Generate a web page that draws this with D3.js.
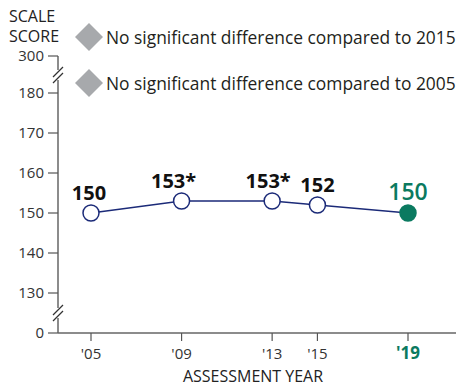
<!DOCTYPE html>
<html lang="en">
<head>
<meta charset="UTF-8">
<title>Scale score by assessment year</title>
<script src="https://d3js.org/d3.v7.min.js"></script>
<style>
  body { margin: 0; background: #fff; }
  svg { font-family: "Open Sans", "Noto Sans", sans-serif; }
</style>
</head>
<body>
<svg width="456" height="388"></svg>
<script>
    // data
    const years = [2005, 2009, 2013, 2015, 2019];
    const yearLabels = ["'05", "'09", "'13", "'15", "'19"];
    const scores = [150, 153, 153, 152, 150];
    const scoreLabels = ["150", "153*", "153*", "152", "150"];
    const yTicks = [130, 140, 150, 160, 170, 180];
    const legendItems = ["No significant difference compared to 2015", "No significant difference compared to 2005"];

    let svg = d3.select("svg");
    const axisX = 58, baseY = 333;
    const green = "#0b7a60", navy = "#1b2a78";

    // y scale for the visible band, 0 and 300 sit outside the breaks
    let y = d3.scaleLinear().domain([130, 180]).range([293, 93]);
    let x = d3.scaleLinear().domain([2005, 2019]).range([91, 408]);

    // y axis
    let yAxis = svg.append("g");
    yAxis.append("line")
        .attr("x1", axisX).attr("x2", axisX)
        .attr("y1", 56).attr("y2", baseY)
        .attr("stroke", "#8c8c8c").attr("stroke-width", 2);

    const yTickData = [{v: 0, py: baseY}, {v: 300, py: 56}]
        .concat(yTicks.map(v => ({v: v, py: y(v)})));
    yAxis.selectAll(".yt").data(yTickData).enter().append("line")
        .attr("x1", 48).attr("x2", axisX)
        .attr("y1", d => d.py).attr("y2", d => d.py)
        .attr("stroke", "#555").attr("stroke-width", 1.2);
    yAxis.selectAll(".yl").data(yTickData).enter().append("text")
        .attr("x", 44).attr("y", d => d.py + 5)
        .attr("text-anchor", "end")
        .attr("font-size", 15).attr("fill", "#333")
        .text(d => d.v);

    // axis break marks
    [75, 313].forEach(by => {
        svg.append("rect").attr("x", axisX - 4).attr("y", by - 5)
            .attr("width", 8).attr("height", 10).attr("fill", "#fff");
        [-3, 3].forEach(off => {
            svg.append("line")
                .attr("x1", axisX - 5).attr("y1", by + off + 5)
                .attr("x2", axisX + 5).attr("y2", by + off - 5)
                .attr("stroke", "#333").attr("stroke-width", 1.2);
        });
    });

    // x axis
    svg.append("line")
        .attr("x1", axisX).attr("x2", 456)
        .attr("y1", baseY).attr("y2", baseY)
        .attr("stroke", "#666").attr("stroke-width", 1.5);
    svg.selectAll(".xt").data(years).enter().append("line")
        .attr("x1", d => x(d)).attr("x2", d => x(d))
        .attr("y1", baseY).attr("y2", baseY + 8)
        .attr("stroke", "#555").attr("stroke-width", 1.2);
    svg.selectAll(".xl").data(years).enter().append("text")
        .attr("x", d => x(d)).attr("y", 359)
        .attr("text-anchor", "middle")
        .attr("font-size", (d, i) => i === years.length - 1 ? 17 : 15)
        .attr("font-weight", (d, i) => i === years.length - 1 ? "bold" : "normal")
        .attr("fill", (d, i) => i === years.length - 1 ? green : "#333")
        .text((d, i) => yearLabels[i]);
    svg.append("text")
        .attr("x", 253).attr("y", 382)
        .attr("text-anchor", "middle")
        .attr("font-size", 16).attr("fill", "#222")
        .attr("textLength", 140).attr("lengthAdjust", "spacingAndGlyphs")
        .text("ASSESSMENT YEAR");

    // y title
    svg.append("text").attr("x", 9).attr("y", 22)
        .attr("font-size", 16).attr("fill", "#222").text("SCALE");
    svg.append("text").attr("x", 9).attr("y", 42)
        .attr("font-size", 16).attr("fill", "#222").text("SCORE");

    // legend
    let legend = svg.selectAll(".leg").data(legendItems).enter().append("g")
        .attr("transform", (d, i) => `translate(89,${37 + i * 46})`);
    legend.append("path")
        .attr("d", "M0,-14L14,0L0,14L-14,0Z")
        .attr("fill", "#a7a9ac");
    legend.append("text")
        .attr("x", 17).attr("y", 7)
        .attr("font-size", 17.4).attr("fill", "#231f20")
        .text(d => d);

    // line + points
    const pts = years.map((yr, i) => ({yr: yr, v: scores[i], lab: scoreLabels[i]}));
    svg.append("path")
        .datum(pts)
        .attr("fill", "none").attr("stroke", navy).attr("stroke-width", 1.3)
        .attr("d", d3.line().x(d => x(d.yr)).y(d => y(d.v)));

    svg.selectAll(".pt").data(pts).enter().append("circle")
        .attr("cx", d => x(d.yr)).attr("cy", d => y(d.v))
        .attr("r", 8)
        .attr("fill", (d, i) => i === pts.length - 1 ? green : "#fff")
        .attr("stroke", (d, i) => i === pts.length - 1 ? green : navy)
        .attr("stroke-width", 1.5);

    // small nudges so neighbouring labels do not collide
    const labelDx = [-2, -8, -4, 0, 0];
    svg.selectAll(".pl").data(pts).enter().append("text")
        .attr("x", (d, i) => x(d.yr) + labelDx[i])
        .attr("y", d => y(d.v) - 13)
        .attr("text-anchor", "middle")
        .attr("font-size", (d, i) => i === pts.length - 1 ? 23 : 20)
        .attr("font-weight", (d, i) => i === pts.length - 1 ? 600 : "bold")
        .attr("fill", (d, i) => i === pts.length - 1 ? green : "#111")
        .text(d => d.lab);
</script>
</body>
</html>
